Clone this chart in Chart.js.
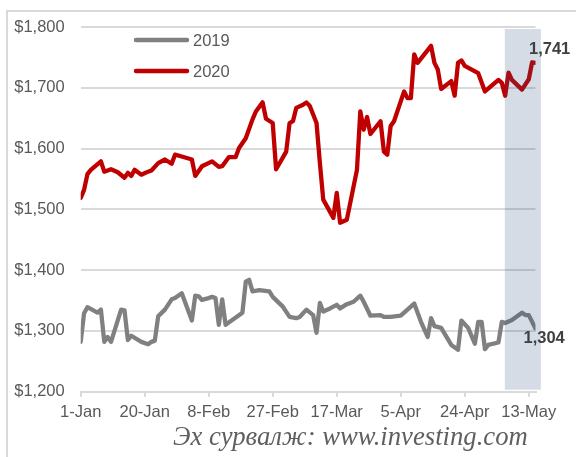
<!DOCTYPE html>
<html>
<head>
<meta charset="utf-8">
<script src="https://cdn.jsdelivr.net/npm/chart.js@4"></script>
<style>
  body { margin: 0; background: #fff; }
  #wrap { position: relative; width: 576px; height: 457px; }
  #source {
    position: absolute; left: 173px; top: 422.5px;
    font: italic 26.7px/26.7px "Liberation Serif", "Times New Roman", serif;
    color: #5f5f5f; white-space: nowrap;
  }
</style>
</head>
<body>
<div id="wrap">
  <canvas id="goldChart" width="576" height="457"></canvas>
  <div id="source">Эх сурвалж: www.investing.com</div>
</div>
<script>
// days counted from 1-Jan
var tickDays = [0, 19, 38, 57, 76, 95, 114, 133];
var tickLabels = ['1-Jan', '20-Jan', '8-Feb', '27-Feb', '17-Mar', '5-Apr', '24-Apr', '13-May'];

var days2019 = [0, 1, 2, 5, 6, 7, 8, 9, 12, 13, 14, 15, 18, 20, 21, 22, 23, 25, 27, 28, 30, 33, 34, 35, 36, 38, 39, 40, 41, 42, 43, 45, 48, 49, 50, 51, 53, 56, 57, 60, 62, 64, 65, 67, 69, 70, 71, 72, 74, 75, 76, 77, 79, 81, 83, 84, 86, 89, 90, 92, 95, 97, 99, 101, 103, 104, 105, 107, 110, 112, 113, 115, 117, 118, 119, 120, 121, 124, 125, 126, 128, 131, 132, 133, 135];
var gold2019 = [1282, 1329, 1339, 1330, 1335, 1282, 1290, 1282, 1335, 1334, 1285, 1292, 1282, 1278, 1282, 1284, 1324, 1335, 1352, 1354, 1362, 1317, 1358, 1357, 1351, 1354, 1356, 1354, 1310, 1352, 1310, 1318, 1330, 1381, 1384, 1365, 1367, 1365, 1356, 1340, 1323, 1321, 1323, 1335, 1326, 1297, 1346, 1332, 1337, 1340, 1343, 1337, 1344, 1348, 1358, 1348, 1325, 1326, 1323, 1323, 1325, 1335, 1345, 1315, 1290, 1321, 1308, 1305, 1277, 1269, 1317, 1305, 1279, 1315, 1315, 1270, 1277, 1281, 1315, 1313, 1318, 1330, 1326, 1326, 1304];

var days2020 = [0, 1, 2, 3, 6, 7, 9, 11, 13, 14, 15, 16, 18, 20, 21, 23, 25, 27, 28, 30, 33, 34, 36, 39, 41, 42, 44, 46, 47, 49, 51, 52, 54, 55, 57, 58, 61, 62, 63, 64, 66, 67, 68, 70, 71, 72, 75, 76, 77, 79, 82, 83, 84, 85, 86, 89, 90, 91, 92, 93, 96, 97, 98, 99, 100, 104, 105, 106, 107, 110, 111, 112, 113, 114, 118, 120, 124, 125, 126, 127, 128, 131, 133, 134, 135];
var gold2020 = [1519, 1532, 1558, 1565, 1579, 1562, 1566, 1561, 1552, 1560, 1555, 1565, 1557, 1562, 1564, 1576, 1582, 1575, 1590, 1587, 1582, 1555, 1571, 1579, 1570, 1571, 1586, 1586, 1601, 1617, 1648, 1661, 1676, 1649, 1642, 1566, 1595, 1642, 1645, 1667, 1672, 1676, 1670, 1642, 1576, 1516, 1486, 1527, 1478, 1483, 1565, 1661, 1631, 1652, 1624, 1645, 1595, 1590, 1637, 1645, 1694, 1683, 1683, 1755, 1741, 1769, 1741, 1730, 1698, 1711, 1687, 1741, 1745, 1736, 1724, 1694, 1713, 1708, 1687, 1725, 1713, 1697, 1714, 1742, 1741];

// highlighted period (days)
var shadeFrom = 125.9;
var shadeTo = 136.6;

function toPoints(xs, ys) {
  return xs.map(function (d, i) { return { x: d, y: ys[i] }; });
}

var fontName = '"Liberation Sans", Arial, sans-serif';
var textColor = '#595959';
var gridColor = '#d9d9d9';

var framePlugin = {
  id: 'frame',
  beforeDraw: function (chart) {
    var ctx = chart.ctx;
    ctx.save();
    ctx.strokeStyle = gridColor;
    ctx.lineWidth = 2;
    ctx.beginPath();
    ctx.moveTo(7, 457);
    ctx.lineTo(7, 11);
    ctx.lineTo(576, 11);
    ctx.stroke();
    ctx.restore();
  }
};

var shadePlugin = {
  id: 'shade',
  afterDatasetsDraw: function (chart) {
    var ctx = chart.ctx;
    var x = chart.scales.x;
    var y = chart.scales.y;
    var x0 = x.getPixelForValue(shadeFrom);
    var x1 = x.getPixelForValue(shadeTo);
    ctx.save();
    ctx.fillStyle = 'rgba(50, 80, 125, 0.2)';
    ctx.fillRect(x0, y.top + 2, x1 - x0, y.bottom - y.top - 4);
    ctx.restore();
  }
};

var labelPlugin = {
  id: 'endLabels',
  afterDraw: function (chart) {
    var ctx = chart.ctx;
    ctx.save();
    // legend
    ctx.font = '16.5px ' + fontName;
    ctx.textBaseline = 'middle';
    ctx.lineCap = 'round';
    chart.data.datasets.forEach(function (ds, i) {
      var ly = 40 + i * 31;
      ctx.strokeStyle = ds.borderColor;
      ctx.lineWidth = 4.5;
      ctx.beginPath();
      ctx.moveTo(136, ly);
      ctx.lineTo(187, ly);
      ctx.stroke();
      ctx.fillStyle = textColor;
      ctx.textAlign = 'left';
      ctx.fillText(ds.label, 193, ly + 1);
    });
    // last values
    ctx.font = 'bold 16.5px ' + fontName;
    ctx.fillStyle = '#404040';
    var offsets = [[-12, 10], [-6.5, -13]];
    chart.data.datasets.forEach(function (ds, i) {
      var meta = chart.getDatasetMeta(i);
      var pt = meta.data[meta.data.length - 1];
      var v = ds.data[ds.data.length - 1].y;
      ctx.fillText(v.toLocaleString('en-US'), pt.x + offsets[i][0], pt.y + offsets[i][1]);
    });
    ctx.restore();
  }
};

var config = {
  type: 'line',
  data: {
    datasets: [
      {
        label: '2019',
        data: toPoints(days2019, gold2019),
        borderColor: '#808080',
        borderWidth: 4.3,
        pointRadius: 0,
        borderJoinStyle: 'round',
        borderCapStyle: 'round',
        tension: 0
      },
      {
        label: '2020',
        data: toPoints(days2020, gold2020),
        borderColor: '#c00000',
        borderWidth: 4.3,
        pointRadius: 0,
        borderJoinStyle: 'round',
        borderCapStyle: 'round',
        tension: 0
      }
    ]
  },
  options: {
    responsive: false,
    animation: false,
    layout: { padding: { left: 0, top: 27, right: 40.5, bottom: 0 } },
    plugins: {
      legend: { display: false },
      tooltip: { enabled: false }
    },
    scales: {
      x: {
        type: 'linear',
        min: 0,
        max: 135,
        afterBuildTicks: function (scale) {
          scale.ticks = tickDays.map(function (d) { return { value: d }; });
        },
        afterFit: function (scale) { scale.height = 65.3; },
        ticks: {
          autoSkip: false,
          maxRotation: 0,
          padding: 6,
          color: textColor,
          font: { family: fontName, size: 16.5 },
          callback: function (value) {
            var i = tickDays.indexOf(value);
            return i >= 0 ? tickLabels[i] : '';
          }
        },
        grid: { drawOnChartArea: false, drawTicks: true, tickLength: 5, color: gridColor, lineWidth: 2 },
        border: { display: true, color: gridColor, width: 2 }
      },
      y: {
        min: 1200,
        max: 1800,
        afterFit: function (scale) { scale.width = 80.7; },
        ticks: {
          stepSize: 100,
          padding: 16,
          color: textColor,
          font: { family: fontName, size: 16.5 },
          callback: function (value) { return '$' + value.toLocaleString('en-US'); }
        },
        grid: { drawTicks: false, color: gridColor, lineWidth: 2 },
        border: { display: false }
      }
    }
  },
  plugins: [framePlugin, shadePlugin, labelPlugin]
};

var goldChart = new Chart(document.getElementById('goldChart'), config);
</script>
</body>
</html>
